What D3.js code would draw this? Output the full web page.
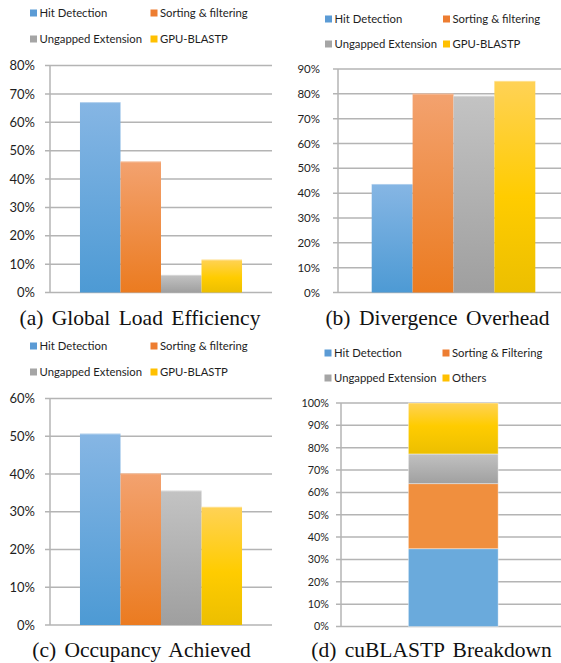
<!DOCTYPE html>
<html>
<head>
<meta charset="utf-8">
<script src="https://cdn.jsdelivr.net/npm/d3@7"></script>
<style>
  html, body { margin: 0; padding: 0; background: #fff; }
  svg { display: block; }
</style>
</head>
<body>
<svg id="fig" width="561" height="663"></svg>
<script>
// series names
const series = ["Hit Detection", "Sorting & filtering", "Ungapped Extension", "GPU-BLASTP"];
const breakdownSeries = ["Hit Detection", "Sorting & Filtering", "Ungapped Extension", "Others"];

// values in percent
const loadEfficiency = [67.1, 46.2, 6.2, 11.6];
const divergenceOverhead = [43.7, 80.1, 79.2, 85.2];
const occupancyAchieved = [50.7, 40.2, 35.6, 31.3];
const breakdown = [34.8, 29.1, 13.3, 22.8];

// y axis tick values
const ticksA = [0, 10, 20, 30, 40, 50, 60, 70, 80];
const ticksB = [0, 10, 20, 30, 40, 50, 60, 70, 80, 90];
const ticksC = [0, 10, 20, 30, 40, 50, 60];
const ticksD = [0, 10, 20, 30, 40, 50, 60, 70, 80, 90, 100];

const captions = ["(a) Global Load Efficiency", "(b) Divergence Overhead",
                  "(c) Occupancy Achieved", "(d) cuBLASTP Breakdown"];

const legendColors = ["#5b9bd5", "#ed7d31", "#a5a5a5", "#ffc000"];

const svg = d3.select("#fig");
const defs = svg.append("defs");

function grad(id, stops) {
    const g = defs.append("linearGradient")
        .attr("id", id)
        .attr("x1", 0).attr("y1", 0).attr("x2", 0).attr("y2", 1);
    stops.forEach(([o, c]) => g.append("stop").attr("offset", o).attr("stop-color", c));
}
grad("g0", [[0, "#86b6e4"], [1, "#4d9ad4"]]);
grad("g1", [[0, "#f3a26f"], [1, "#eb7b20"]]);
grad("g2", [[0, "#c3c3c3"], [1, "#9f9f9f"]]);
grad("g3", [[0, "#ffd256"], [0.55, "#ffcc00"], [1, "#ecbf00"]]);
grad("s2", [[0, "#c1c1c1"], [1, "#a0a0a0"]]);
grad("s3", [[0, "#ffd256"], [0.45, "#ffcc00"], [1, "#ecbf00"]]);

const sans = "Lato, 'Open Sans', sans-serif";
const serif = "'Liberation Serif', 'DejaVu Serif', serif";

function drawLegend(names, x1, x2, y1, y2) {
    const pos = [[x1, y1], [x2, y1], [x1, y2], [x2, y2]];
    names.forEach((n, i) => {
        const [x, y] = pos[i];
        svg.append("rect")
            .attr("x", x).attr("y", y - 7.5)
            .attr("width", 7).attr("height", 7)
            .attr("fill", legendColors[i]);
        svg.append("text")
            .attr("x", x + 9.5).attr("y", y)
            .attr("font-family", sans)
            .attr("font-size", "11.3px")
            .attr("fill", "#1e1e1e")
            .text(n);
    });
}

function drawAxes(g, y, ticks, left, right, fontSize, labelGap) {
    g.selectAll(".grid")
        .data(ticks)
        .enter()
        .append("line")
        .attr("x1", left - 5)
        .attr("x2", right)
        .attr("y1", d => y(d))
        .attr("y2", d => y(d))
        .attr("stroke", "#b4b4b4")
        .attr("stroke-width", 1.5);

    g.append("line")
        .attr("x1", left).attr("x2", left)
        .attr("y1", y(ticks[ticks.length - 1]))
        .attr("y2", y(0))
        .attr("stroke", "#b4b4b4")
        .attr("stroke-width", 1.5);

    g.selectAll(".tick-label")
        .data(ticks)
        .enter()
        .append("text")
        .attr("x", left - labelGap)
        .attr("y", d => y(d))
        .attr("dy", "0.36em")
        .attr("text-anchor", "end")
        .attr("font-family", sans)
        .attr("font-size", fontSize)
        .attr("fill", "#1e1e1e")
        .text(d => d + "%");
}

function drawCaption(text, x, y) {
    svg.append("text")
        .attr("x", x).attr("y", y)
        .attr("text-anchor", "middle")
        .attr("font-family", serif)
        .attr("font-size", "21.5px")
        .attr("word-spacing", "3px")
        .attr("fill", "#111")
        .text(text);
}

function drawBarPanel(cfg) {
    const g = svg.append("g");
    const y = d3.scaleLinear()
        .domain([0, cfg.ticks[cfg.ticks.length - 1]])
        .range([cfg.bottom, cfg.top]);

    drawAxes(g, y, cfg.ticks, cfg.left, Math.min(cfg.right, 561), cfg.fontSize, cfg.labelGap);

    const x0 = d3.scaleBand()
        .domain(["all"])
        .range([cfg.left, cfg.right])
        .paddingInner(0)
        .paddingOuter(cfg.pad);

    const x1 = d3.scaleBand()
        .domain(series)
        .range([x0("all"), x0("all") + x0.bandwidth()]);

    const bars = g.selectAll(".bar")
        .data(cfg.values)
        .enter();

    bars.append("rect")
        .attr("x", (d, i) => x1(series[i]))
        .attr("y", d => y(d))
        .attr("width", x1.bandwidth())
        .attr("height", d => y(0) - y(d))
        .attr("fill", (d, i) => `url(#g${i})`);

    // thin light top edge
    bars.append("line")
        .attr("x1", (d, i) => x1(series[i]))
        .attr("x2", (d, i) => x1(series[i]) + x1.bandwidth())
        .attr("y1", d => y(d) + 0.5)
        .attr("y2", d => y(d) + 0.5)
        .attr("stroke", "#ffffff")
        .attr("stroke-opacity", 0.35)
        .attr("stroke-width", 1);

    drawCaption(cfg.caption, cfg.capX, cfg.capY);
}

function drawStackPanel(cfg) {
    const g = svg.append("g");
    const y = d3.scaleLinear()
        .domain([0, 100])
        .range([cfg.bottom, cfg.top]);

    drawAxes(g, y, cfg.ticks, cfg.left, Math.min(cfg.right, 561), cfg.fontSize, cfg.labelGap);

    const x = d3.scaleBand()
        .domain(["all"])
        .range([cfg.left, cfg.right])
        .paddingInner(0)
        .paddingOuter(cfg.pad);

    const row = {};
    breakdownSeries.forEach((s, i) => row[s] = cfg.values[i]);
    const stacked = d3.stack().keys(breakdownSeries)([row]);
    const fills = ["#6aaadc", "#f08f3e", "url(#s2)", "url(#s3)"];

    g.selectAll(".seg")
        .data(stacked)
        .enter()
        .append("rect")
        .attr("x", x("all"))
        .attr("width", x.bandwidth())
        .attr("y", d => y(d[0][1]))
        .attr("height", d => y(d[0][0]) - y(d[0][1]))
        .attr("fill", (d, i) => fills[i])
        .attr("stroke", "#ffffff")
        .attr("stroke-opacity", 0.5)
        .attr("stroke-width", 0.8);

    drawCaption(cfg.caption, cfg.capX, cfg.capY);
}

// (a)
drawLegend(series, 30, 150.5, 17, 43);
drawBarPanel({
    values: loadEfficiency, ticks: ticksA,
    left: 50, right: 272, top: 65.5, bottom: 292.5, pad: 0.185,
    fontSize: "13px", labelGap: 15,
    caption: captions[0], capX: 140, capY: 325
});

// (b)
drawLegend(series, 325, 443, 23, 48);
drawBarPanel({
    values: divergenceOverhead, ticks: ticksB,
    left: 338, right: 569, top: 69, bottom: 292.5, pad: 0.206,
    fontSize: "11.5px", labelGap: 18,
    caption: captions[1], capX: 437.5, capY: 325
});

// (c)
drawLegend(series, 30, 150.5, 350, 376);
drawBarPanel({
    values: occupancyAchieved, ticks: ticksC,
    left: 50, right: 272, top: 398.5, bottom: 625, pad: 0.185,
    fontSize: "13px", labelGap: 15,
    caption: captions[2], capX: 141.5, capY: 657
});

// (d)
drawLegend(breakdownSeries, 324.5, 442.5, 357, 382);
drawStackPanel({
    values: breakdown, ticks: ticksD,
    left: 341, right: 565.5, top: 403, bottom: 626.5, pad: 0.75,
    fontSize: "10.8px", labelGap: 12,
    caption: captions[3], capX: 431.5, capY: 657
});
</script>
</body>
</html>
